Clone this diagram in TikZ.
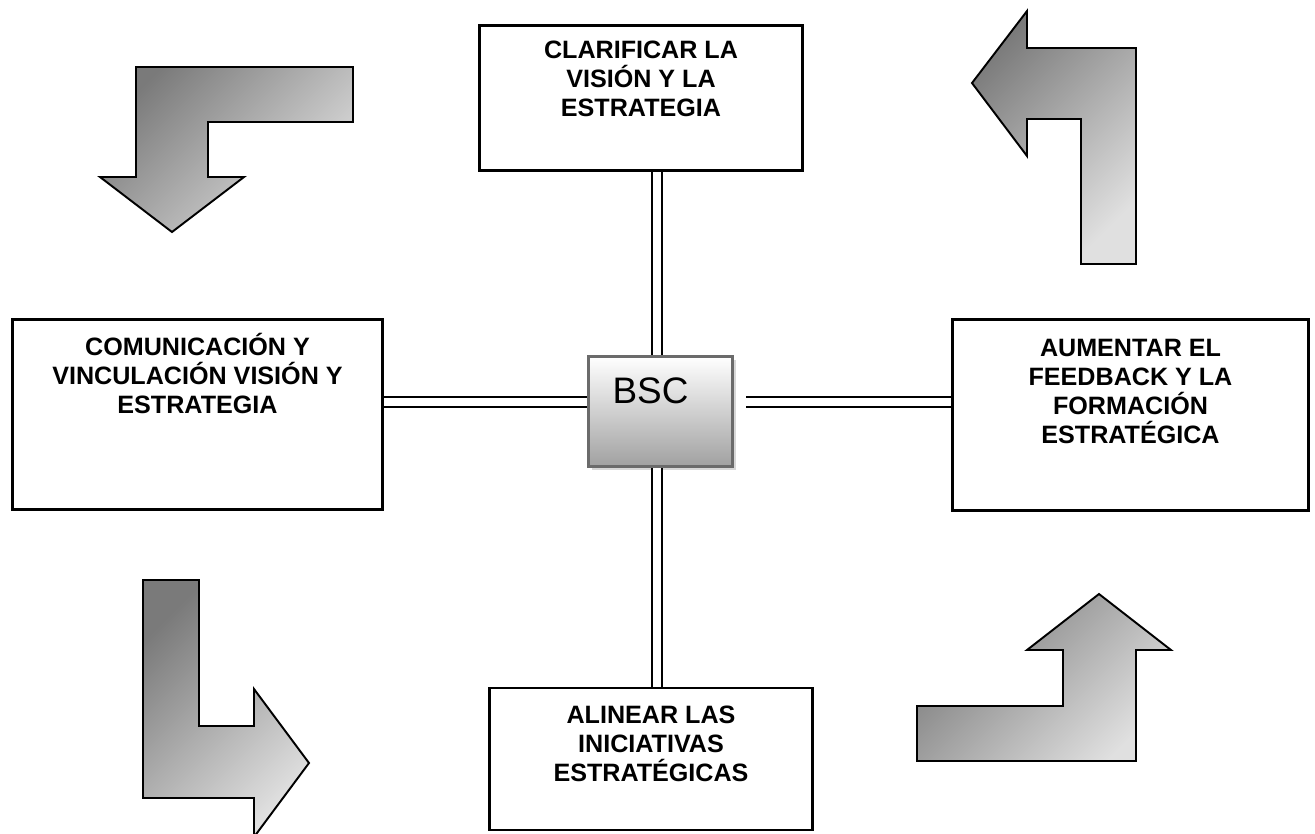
\documentclass[tikz,border=0pt]{standalone}
\usepackage{fontspec}
\setmainfont{Liberation Sans}
\usetikzlibrary{positioning,calc,shadows}

\begin{document}
\begin{tikzpicture}[x=0.02cm,y=-0.02cm,
  caja/.style={draw,line width=1.2pt,inner sep=0pt},
  rotulo/.style={align=center,anchor=base,inner sep=0pt,
    font=\fontsize{14.3}{16.5}\selectfont\bfseries},
  enlace/.style={double,double distance=4.6pt,line width=1pt},
  flecha/.style={draw,line width=1.1pt,line join=miter,
    top color=black!52,bottom color=black!12,shading angle=45}]
\useasboundingbox (0,0) rectangle (1315,833);

% cajas
\node[caja,minimum width=6.46cm,minimum height=2.9cm] (vision) at (641,98) {};
\node[caja,minimum width=7.4cm,minimum height=3.8cm] (comunic) at (197.5,414.5) {};
\node[caja,minimum width=7.12cm,minimum height=3.82cm] (feedback) at (1130.5,415) {};
\node[caja,minimum width=6.46cm,minimum height=2.84cm] (alinear) at (651,759) {};

% base = ultima linea
\node[rotulo] (tvision) at ([yshift=-1.85cm]vision.north)
  {CLARIFICAR LA\\VISIÓN Y LA\\ESTRATEGIA};
\node[rotulo] (tcomunic) at ([yshift=-1.90cm]comunic.north)
  {COMUNICACIÓN Y\\VINCULACIÓN VISIÓN Y\\ESTRATEGIA};
\node[rotulo] (tfeedback) at ([yshift=-2.50cm]feedback.north)
  {AUMENTAR EL\\FEEDBACK Y LA\\FORMACIÓN\\ESTRATÉGICA};
\node[rotulo] (talinear) at ([yshift=-1.90cm]alinear.north)
  {ALINEAR LAS\\INICIATIVAS\\ESTRATÉGICAS};

% centro
\node[draw=black!58,line width=1.9pt,top color=white,bottom color=black!37,
  minimum width=2.88cm,minimum height=2.2cm,
  drop shadow={shadow xshift=2pt,shadow yshift=-2pt,fill=black!30,opacity=.5},
  font=\fontsize{21}{25}\selectfont,text height=0.54cm,text depth=0.88cm]
  (bsc) at (660.5,411.5) {BSC\kern0.4cm};

\coordinate (bn) at ([xshift=-0.07cm]bsc.north);
\coordinate (bs) at ([xshift=-0.07cm]bsc.south);
\coordinate (bw) at ([yshift=0.19cm]bsc.west);
\coordinate (be) at ([xshift=0.24cm,yshift=0.19cm]bsc.east);
\draw[enlace] (bn) -- (bn |- vision.south);
\draw[enlace] (bs) -- (bs |- alinear.north);
\draw[enlace] (bw) -- (bw -| comunic.east);
\draw[enlace] (be) -- (be -| feedback.west);

% flechas
\path[flecha] (353,67) -- (136,67) -- (136,177) -- (100,177) -- (172,232)
  -- (244,177) -- (208,177) -- (208,122) -- (353,122) -- cycle;
\path[flecha] (1136,264) -- (1136,48) -- (1027,48) -- (1027,11) -- (972,83)
  -- (1027,156) -- (1027,119) -- (1081,119) -- (1081,264) -- cycle;
\path[flecha] (143,580) -- (199,580) -- (199,726) -- (254,726) -- (254,689)
  -- (309,763) -- (254,837) -- (254,798) -- (143,798) -- cycle;
\path[flecha] (917,761) -- (917,706) -- (1063,706) -- (1063,650) -- (1027,650)
  -- (1099,594) -- (1171,650) -- (1136,650) -- (1136,761) -- cycle;
\end{tikzpicture}
\end{document}
